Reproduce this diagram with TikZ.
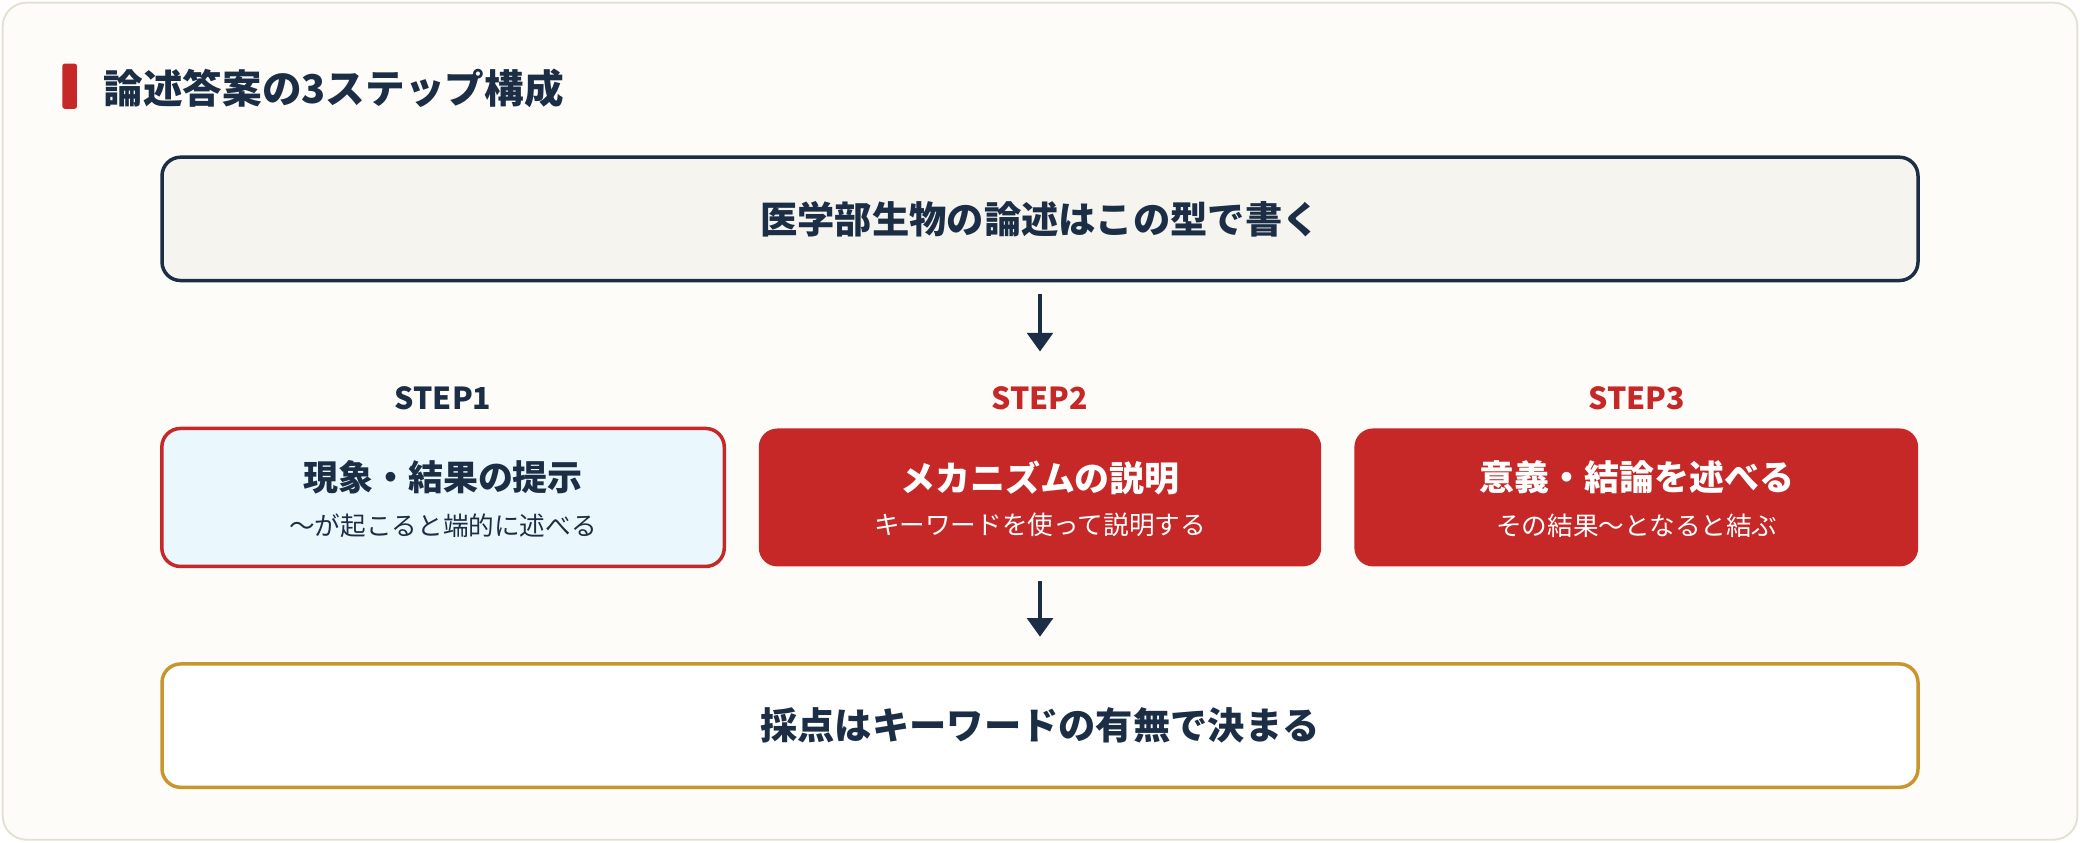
\documentclass[tikz,border=0pt]{standalone}
\usepackage{fontspec}
\setmainfont{Noto Sans CJK JP}
\usetikzlibrary{arrows.meta}
\definecolor{navy}{HTML}{1B2E45}
\definecolor{redbox}{HTML}{C62828}
\definecolor{gold}{HTML}{C9952F}
\definecolor{paper}{HTML}{FDFCF8}
\definecolor{pale}{HTML}{F5F4EF}
\definecolor{skyfill}{HTML}{EAF7FC}
\definecolor{edge}{HTML}{E3E0D3}
\tikzset{
  box/.style={rounded corners=14*0.02cm,line width=1.5pt,minimum height=1.86cm},
  steplabel/.style={font=\bfseries\fontsize{13}{15}\selectfont},
  arr/.style={-{Triangle[length=8pt,width=11pt]},line width=1.6pt,draw=navy}
}
\begin{document}
\begin{tikzpicture}[x=0.02cm,y=-0.02cm]
  \useasboundingbox (0,0) rectangle (1568,635);
  \draw[edge,fill=paper,line width=0.8pt,rounded corners=0.36cm] (2,2) rectangle (1566,633);
  \fill[redbox,rounded corners=1pt] (47,48) rectangle (58,82);
  \node[anchor=west,text=navy,font=\bfseries\fontsize{17}{20}\selectfont] (title) at (72,67) {論述答案の3ステップ構成};
  % top box
  \node[box,draw=navy,fill=pale,minimum width=26.48cm,text=navy,font=\bfseries\fontsize{16}{19}\selectfont] (top) at (784,165) {医学部生物の論述はこの型で書く};
  \draw[arr] (784,222) coordinate (a1) -- (784,265) coordinate (b1);
  % steps
  \node[steplabel,text=navy] (s1) at (334,300) {STEP1};
  \node[steplabel,text=redbox] (s2) at (784,300) {STEP2};
  \node[steplabel,text=redbox] (s3) at (1234,300) {STEP3};
  \draw[box,draw=redbox,fill=skyfill] (122,323) rectangle (546,427);
  \fill[redbox,rounded corners=14*0.02cm] (572,323) rectangle (996,427);
  \fill[redbox,rounded corners=14*0.02cm] (1021,323) rectangle (1446,427);
  \node[text=navy,font=\bfseries\fontsize{15}{18}\selectfont] (m1) at (334,360) {現象・結果の提示};
  \node[text=navy,font=\fontsize{11}{13}\selectfont] (n1) at (334,396) {〜が起こると端的に述べる};
  \node[text=white,font=\bfseries\fontsize{15}{18}\selectfont] (m2) at (784,360) {メカニズムの説明};
  \node[text=white,font=\fontsize{11}{13}\selectfont] (n2) at (784,396) {キーワードを使って説明する};
  \node[text=white,font=\bfseries\fontsize{15}{18}\selectfont] (m3) at (1234,360) {意義・結論を述べる};
  \node[text=white,font=\fontsize{11}{13}\selectfont] (n3) at (1234,396) {その結果〜となると結ぶ};
  \draw[arr] (784,438) coordinate (a2) -- (784,480) coordinate (b2);
  % bottom box
  \node[box,draw=gold,fill=white,minimum width=26.48cm,text=navy,font=\bfseries\fontsize{16}{19}\selectfont] (bottom) at (784,547) {採点はキーワードの有無で決まる};
\end{tikzpicture}
\end{document}
